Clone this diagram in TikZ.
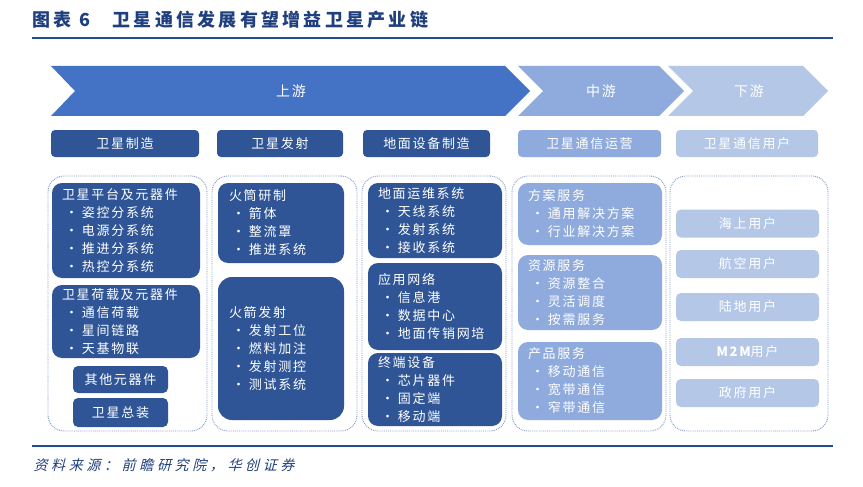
\documentclass[tikz,border=0pt]{standalone}
\usepackage{fontspec}
\usepackage{tikz}
\usetikzlibrary{positioning, shapes, arrows.meta, calc}

\newfontfamily\cjk{Noto Sans CJK SC}[LetterSpace=13]
\newfontfamily\cjktitle{Noto Sans CJK SC}[LetterSpace=18]
\newfontfamily\cjksrc{Noto Sans CJK SC}[LetterSpace=26, FakeSlant=0.25]

\definecolor{titleblue}{HTML}{1F3F7F}
\definecolor{lineblue}{HTML}{1F4E8C}
\definecolor{upblue}{HTML}{4472C4}
\definecolor{midblue}{HTML}{8FAADC}
\definecolor{lowblue}{HTML}{B4C7E7}
\definecolor{darkblue}{HTML}{2F5597}
\definecolor{dotblue}{HTML}{8298C8}

% bullet line inside a box
\newcommand\bul[1]{\makebox[20pt][l]{\hspace{3pt}•}#1}

\tikzset{
  chev/.style={fill=#1, draw=none},
  chevlabel/.style={text=white, font=\cjk\fontsize{14}{16}\selectfont},
  hdr/.style={
    fill=#1, draw=none, rounded corners=4pt,
    text=white, inner sep=0pt,
    font=\cjk\fontsize{13}{16}\selectfont
  },
  grp/.style={
    draw=dotblue, densely dotted, line width=0.9pt,
    rounded corners=16pt, inner sep=0pt
  },
  ibox/.style={
    fill=#1, draw=none, rounded corners=10pt,
    text=white, align=left, inner xsep=10pt, inner ysep=0pt,
    font=\cjk\fontsize{13}{18}\selectfont
  },
  sbox/.style={
    fill=#1, draw=none, rounded corners=5pt,
    text=white, inner sep=0pt,
    font=\cjk\fontsize{13}{16}\selectfont
  }
}

\begin{document}
\begin{tikzpicture}[x=1pt, y=-1pt]
\useasboundingbox[fill=white] (0,0) rectangle (863,487);

%% Title
\node[anchor=west, text=titleblue, font=\cjktitle\bfseries\fontsize{18}{20}\selectfont]
  (title) at (29,20) {图表\hspace{8pt}6\hspace{22pt}卫星通信发展有望增益卫星产业链};
\coordinate (tl) at (32,38);
\coordinate (tr) at (833,38);
\draw[lineblue, line width=2.2pt] (tl) -- (tr);

%% Chevrons
\draw[chev=upblue] (51,66) -- (505,66) -- (530,91) -- (505,116) -- (51,116) -- (75,91) -- cycle;
\draw[chev=midblue] (518,66) -- (659,66) -- (684,91) -- (659,116) -- (518,116) -- (543,91) -- cycle;
\draw[chev=lowblue] (668,66) -- (803,66) -- (828,91) -- (803,116) -- (668,116) -- (693,91) -- cycle;
\node[chevlabel] (up) at (291,91) {上游};
\node[chevlabel] (mid) at (601,91) {中游};
\node[chevlabel] (down) at (749,91) {下游};

%% Section headers
\node[hdr=darkblue, minimum width=148pt, minimum height=27pt] (hsat) at (125,143.5) {卫星制造};
\node[hdr=darkblue, minimum width=126pt, minimum height=27pt] (hlaunch) at (280,143.5) {卫星发射};
\node[hdr=darkblue, minimum width=127pt, minimum height=27pt] (hground) at (426.5,143.5) {地面设备制造};
\node[hdr=midblue, minimum width=143pt, minimum height=27pt] (hops) at (589.5,143.5) {卫星通信运营};
\node[hdr=lowblue, minimum width=142pt, minimum height=27pt] (husers) at (747,143.5) {卫星通信用户};

%% Dotted groups
\node[grp, minimum width=159pt, minimum height=255pt] (gsat) at (127.5,303.5) {};
\node[grp, minimum width=145pt, minimum height=255pt] (glaunch) at (284.5,303.5) {};
\node[grp, minimum width=144pt, minimum height=255pt] (gground) at (434,303.5) {};
\node[grp, minimum width=154pt, minimum height=255pt] (gops) at (589,303.5) {};
\node[grp, minimum width=158pt, minimum height=255pt] (gusers) at (749,303.5) {};

%% Satellite manufacturing
\node[ibox=darkblue, minimum width=148pt, text width=128pt, minimum height=95pt] (platform) at (126,230.5)
  {卫星平台及元器件\\ \bul{姿控分系统}\\ \bul{电源分系统}\\ \bul{推进分系统}\\ \bul{热控分系统}};
\node[ibox=darkblue, minimum width=148pt, text width=128pt, minimum height=73pt] (payload) at (126,321.5)
  {卫星荷载及元器件\\ \bul{通信荷载}\\ \bul{星间链路}\\ \bul{天基物联}};
\node[sbox=darkblue, minimum width=95pt, minimum height=27pt] (parts) at (120.5,379.5) {其他元器件};
\node[sbox=darkblue, minimum width=95pt, minimum height=29pt] (assembly) at (120.5,412.5) {卫星总装};

%% Satellite launch
\node[ibox=darkblue, minimum width=126pt, text width=104pt, minimum height=80pt] (rocket) at (281,223)
  {火筒研制\\ \bul{箭体}\\ \bul{整流罩}\\ \bul{推进系统}};
\node[ibox=darkblue, minimum width=126pt, text width=104pt, minimum height=143pt, rounded corners=14pt] (launch) at (281,348.5)
  {火箭发射\\ \bul{发射工位}\\ \bul{燃料加注}\\ \bul{发射测控}\\ \bul{测试系统}};

%% Ground equipment
\node[ibox=darkblue, minimum width=134pt, text width=114pt, minimum height=75pt] (opsys) at (435,220.5)
  {地面运维系统\\ \bul{天线系统}\\ \bul{发射系统}\\ \bul{接收系统}};
\node[ibox=darkblue, minimum width=134pt, text width=114pt, minimum height=87pt] (appnet) at (435,306.5)
  {应用网络\\ \bul{信息港}\\ \bul{数据中心}\\ \bul{地面传销网培}};
\node[ibox=darkblue, minimum width=134pt, text width=114pt, minimum height=73pt] (terminal) at (435,389.5)
  {终端设备\\ \bul{芯片器件}\\ \bul{固定端}\\ \bul{移动端}};

%% Operations
\node[ibox=midblue, minimum width=144pt, text width=124pt, minimum height=62pt] (solution) at (590,214)
  {方案服务\\ \bul{通用解决方案}\\ \bul{行业解决方案}};
\node[ibox=midblue, minimum width=144pt, text width=124pt, minimum height=75pt] (resource) at (590,292.5)
  {资源服务\\ \bul{资源整合}\\ \bul{灵活调度}\\ \bul{按需服务}};
\node[ibox=midblue, minimum width=144pt, text width=124pt, minimum height=78pt] (product) at (590,381)
  {产品服务\\ \bul{移动通信}\\ \bul{宽带通信}\\ \bul{窄带通信}};

%% Users
\foreach \t/\y/\n in {海上用户/223.5/sea, 航空用户/264/air, 陆地用户/307/land,
                      {{\bfseries M2M}用户}/352/mtm, 政府用户/393/gov}
  \node[sbox=lowblue, minimum width=143pt, minimum height=28pt] (user\n) at (747.5,\y) {\t};

%% Source
\coordinate (bl) at (32,446);
\coordinate (br) at (833,446);
\draw[lineblue, line width=2.2pt] (bl) -- (br);
\node[anchor=west, text=titleblue, font=\cjksrc\fontsize{14}{16}\selectfont]
  (source) at (30,465) {资料来源：前瞻研究院，华创证券};
\end{tikzpicture}
\end{document}
